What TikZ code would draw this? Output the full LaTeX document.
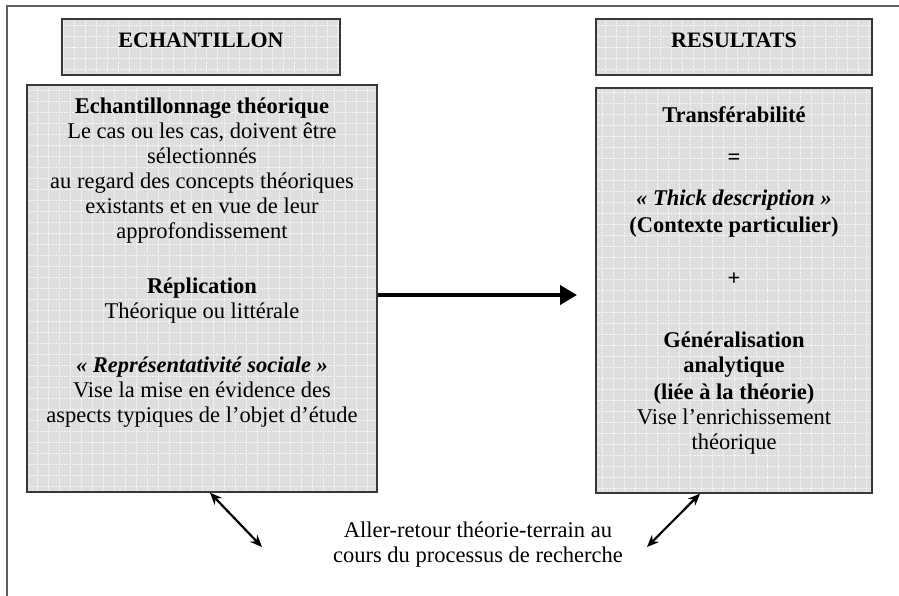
\documentclass[tikz,border=0pt]{standalone}
\usepackage{fontspec}
\setmainfont{Liberation Serif}
\usepackage{xcolor}
\definecolor{boxgray}{RGB}{222,222,222}
\definecolor{gridwhite}{RGB}{246,246,246}
\definecolor{edgegray}{RGB}{55,55,55}
\definecolor{framegray}{RGB}{95,95,95}
\usetikzlibrary{arrows.meta, positioning}

\tikzset{
  gridbox/.style={draw=edgegray, line width=1.4pt, fill=boxgray, inner sep=0pt,
    path picture={\draw[gridwhite, line width=0.6pt, densely dotted]
      (path picture bounding box.south west) grid[step=11pt]
      (path picture bounding box.north east);}},
  headbox/.style={gridbox, font=\fontsize{22}{25}\selectfont\bfseries,
    text height=15pt, text depth=14pt},
  bodytext/.style={font=\fontsize{22.5}{25}\selectfont, align=center, inner sep=0pt},
  bigarrow/.style={-{Triangle[length=17pt,width=19pt]}, line width=4pt},
  twoway/.style={{Stealth[length=12pt,width=10pt]}-{Stealth[length=12pt,width=10pt]}, line width=2.2pt},
}

\begin{document}
\begin{tikzpicture}[x=1pt, y=-1pt]
  \useasboundingbox (0,0) rectangle (899,596);
  % Frame
  \draw[framegray, line width=1.5pt] (899,6) -- (7,6) -- (7,596);

  % --- Headers ---
  \node[headbox, minimum width=278pt, minimum height=56pt] (samplehead) at (201,47) {ECHANTILLON};
  \node[headbox, minimum width=276pt, minimum height=56pt] (resulthead) at (734,47) {RESULTATS};

  % --- Left box: sample ---
  \node[gridbox, minimum width=350pt, minimum height=407pt] (sample) at (202,288.5) {};
  \node[bodytext, anchor=north] (sampletext) at (202,98) {%
    \textbf{Echantillonnage théorique}\\
    Le cas ou les cas, doivent être\\
    sélectionnés\\
    au regard des concepts théoriques\\
    existants et en vue de leur\\
    approfondissement\\[30pt]
    \textbf{Réplication}\\
    Théorique ou littérale\\[29pt]
    \textbf{\textit{« Représentativité sociale »}}\\
    Vise la mise en évidence des\\
    aspects typiques de l’objet d’étude};

  % --- Right box: results ---
  \node[gridbox, minimum width=276pt, minimum height=405pt] (result) at (734,290.5) {};
  \node[bodytext, anchor=north] (resulttext) at (734,106) {%
    \textbf{Transférabilité}\\[17pt]
    \textbf{=}\\[16pt]
    \textbf{\textit{« Thick description »}}\\[2pt]
    \textbf{(Contexte particulier)}\\[28pt]
    \textbf{+}\\[37pt]
    \textbf{Généralisation}\\
    \textbf{analytique}\\[2pt]
    \textbf{(liée à la théorie)}\\
    Vise l’enrichissement\\
    théorique};

  % Main arrow
  \coordinate (bigtip) at (577,295);
  \draw[bigarrow] (sample.east |- bigtip) -- (bigtip);

  % --- Bottom: back and forth ---
  \node[bodytext] (loop) at (478,545) {Aller-retour théorie-terrain au\\cours du processus de recherche};
  \coordinate (loopL) at (262,547);
  \coordinate (loopR) at (647,547);
  \draw[twoway] ([xshift=8pt]sample.south) -- (loopL);
  \draw[twoway] (loopR) -- ([xshift=-34pt]result.south);
\end{tikzpicture}
\end{document}
